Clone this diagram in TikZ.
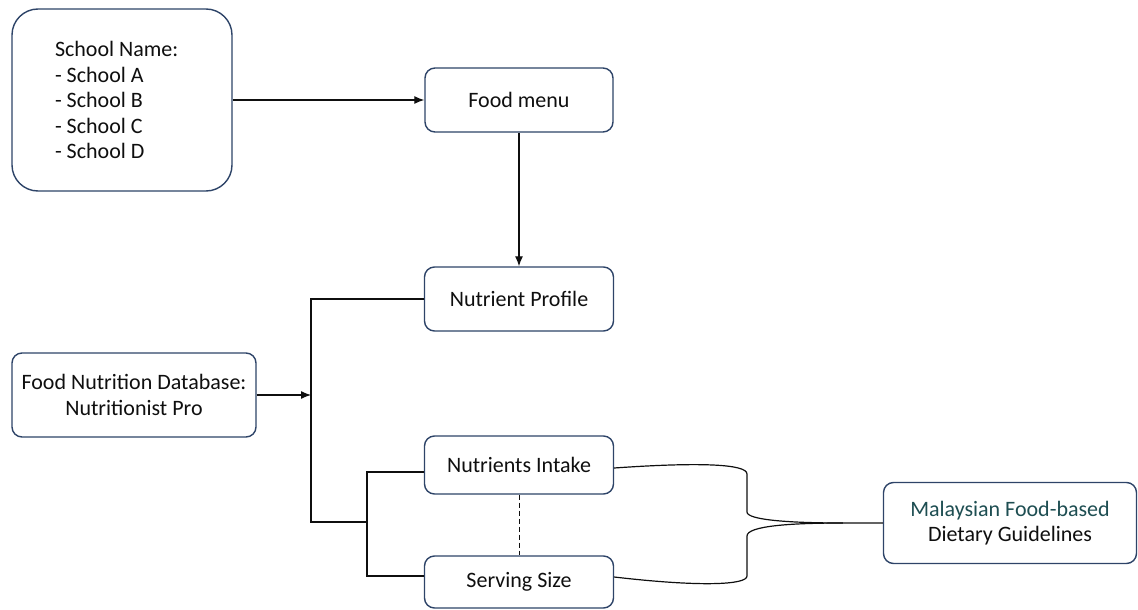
\documentclass[tikz,border=0pt]{standalone}
\usepackage{fontspec}
\setmainfont{Carlito}
\usetikzlibrary{arrows.meta,calc}
\begin{document}
\begin{tikzpicture}[x=1pt, y=-1pt, font=\fontsize{22}{25.5}\selectfont,
  box/.style={draw=frame, line width=1.4pt, rounded corners=10pt, fill=white,
    text=ink, align=center, inner sep=0pt},
  link/.style={draw=ink, line width=1.2pt},
  arr/.style={link, -{Latex[length=10pt,width=8pt]}}]
\definecolor{frame}{RGB}{46,68,104}
\definecolor{ink}{RGB}{15,15,15}
\definecolor{guide}{RGB}{30,78,82}
\useasboundingbox (0,0) rectangle (1138,610);

\node[box, rounded corners=26pt, minimum width=220pt, minimum height=182pt,
  text width=134pt, inner xsep=43pt, align=flush left] (school) at (122,100)
  {\rule{0pt}{6pt}School Name:\\- School A\\- School B\\- School C\\- School D};
\node[box, minimum width=188pt, minimum height=64pt] (menu) at (519,100) {Food menu};
\node[box, minimum width=189pt, minimum height=64pt] (profile) at (519,299) {Nutrient Profile};
\node[box, minimum width=244pt, minimum height=84pt] (fnd) at (134,395)
  {Food Nutrition Database:\\Nutritionist Pro};
\node[box, minimum width=189pt, minimum height=58pt] (intake) at (519,465) {Nutrients Intake};
\node[box, minimum width=189pt, minimum height=52pt] (serving) at (519,582) {Serving Size};
\node[box, minimum width=253pt, minimum height=81pt] (mdg) at (1010,523)
  {\textcolor{guide}{Malaysian Food-based}\\Dietary Guidelines};

\coordinate (bend) at (311,522);
\coordinate (fork) at (367,522);
\coordinate (knot) at ($(mdg.west)+(-40,0)$);

\draw[arr] (school.east |- menu.west) -- (menu.west);
\draw[arr] (menu.south) -- (profile.north);
\draw[link] (profile.west) -| (bend) -- (fork);
\draw[arr] (fnd.east) -- (fnd.east -| bend);
\draw[link] ([yshift=-7pt]intake.west) -| (fork) |- ([yshift=6pt]serving.west);
\draw[link, line width=0.8pt, dash pattern=on 5pt off 3pt] (intake.south) -- (serving.north);

% brace towards the guidelines
\draw[link] ([yshift=-3pt]intake.east) .. controls (700,462) and (747,464) .. (747,474)
  -- (747,512) .. controls (747,520) and (790,523) .. (knot) -- (mdg.west);
\draw[link] ([yshift=5pt]serving.east) .. controls (700,587) and (747,585) .. (747,576)
  -- (747,536) .. controls (747,526) and (790,523) .. (knot);
\end{tikzpicture}
\end{document}
